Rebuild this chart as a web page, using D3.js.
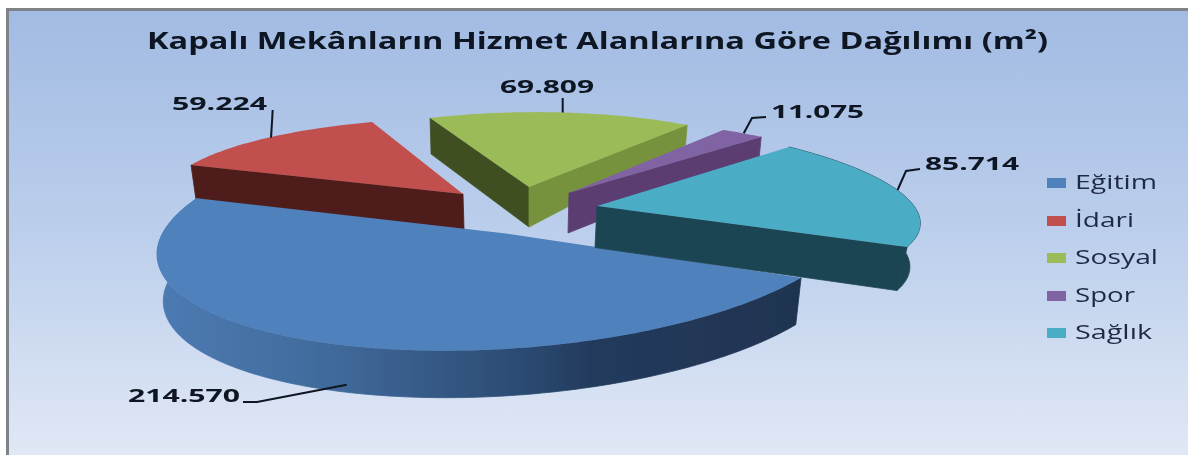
<!DOCTYPE html>
<html lang="tr">
<head>
<meta charset="utf-8">
<script src="https://cdn.jsdelivr.net/npm/d3@7"></script>
<style>
html,body{margin:0;padding:0;background:#fff;overflow:hidden}
svg{display:block}
text{font-family:"Open Sans",sans-serif}
</style>
</head>
<body>
<div id="chart"></div>
<script>
// ---- data ----
const chartTitle = "Kapalı Mekânların Hizmet Alanlarına Göre Dağılımı (m²)";
const categories = ["Eğitim", "İdari", "Sosyal", "Spor", "Sağlık"];
const values = [214570, 59224, 69809, 11075, 85714];

// ---- styles and layout ----
const W = 1188, H = 455;
const topColors = ["#4f81bd", "#c0504d", "#9bbb59", "#8064a2", "#4bacc6"];
const legendColors = ["#4f81bd", "#c0504d", "#9bbb59", "#8064a2", "#4bacc6"];
const startDeg = 95;
// each exploded slice has its own skewed picture plane: apex A, east vector U, north vector V
const frames = [
  {A:[506,233.5],   U:[310.2,34.5], V:[-160,112],  wall:{dx:0, sx:-.018, dy:47, kx:0, ky:0},        side0:null,      side1:null,      outer:"url(#eduWall)"},
  {A:[463,194],     U:[272.8,28.5], V:[-117.9,70.7],wall:{dx:1, sx:-.0147,dy:35, kx:0, ky:0},       side0:"#4f1f1b", side1:null,      outer:null},
  {A:[529,187],     U:[255.1,23.5], V:[-91.8,71.1], wall:{dx:0, sx:-.01, dy:40, kx:-.0665, ky:.1533},side0:"#3f4f20", side1:"#76923c", outer:null},
  {A:[569,193],     U:[286.2,20.7], V:[-78.9,71.5], wall:{dx:-1,sx:-.005,dy:40, kx:-.104, ky:0},    side0:null,      side1:"#5c3d72", outer:null},
  {A:[597,206],     U:[316.8,34.1], V:[-64.5,80.9], wall:{dx:-2,sx:-.026,dy:41.5, kx:.0065, ky:0},  side0:null,      side1:"#1f4552", outer:"#1f4552"}
];
const drawOrder = [2, 1, 3, 0, 4];
const labelPlace = [
  {x:128, w:112, y:402, lead:[12,-6], elbows:[[257,402],[243,402]], onWall:true},
  {x:172, w:95,  y:110, lead:[7,-1],  elbows:[[272.7,110]]},
  {x:500, w:94,  y:93,  lead:[0,0],   elbows:[[562.7,98]]},
  {x:771, w:93,  y:118, lead:[1,0],   elbows:[[752,118],[766,117]]},
  {x:925, w:94,  y:170, lead:[-6,-5], elbows:[[906,171],[920,169]]}
];
const legendPlace = [
  {y:178, w:82}, {y:216, w:59}, {y:253, w:83}, {y:291, w:60}, {y:328, w:77}
];

const svg = d3.select("#chart").append("svg").attr("width", W).attr("height", H);
const defs = svg.append("defs");

const bg = defs.append("linearGradient").attr("id","bg").attr("x1",0).attr("y1",0).attr("x2",0).attr("y2",1);
[[0,"#a2bbe3"],[.5,"#bccfec"],[1,"#e2e9f6"]].forEach(s=>bg.append("stop").attr("offset",s[0]).attr("stop-color",s[1]));

const eduWall = defs.append("linearGradient").attr("id","eduWall").attr("gradientUnits","userSpaceOnUse")
  .attr("x1",155).attr("y1",0).attr("x2",805).attr("y2",0);
[[0,"#4c7bb3"],[.27,"#406a9b"],[.57,"#2b4a72"],[.67,"#233b5d"],[1,"#1f3350"]]
  .forEach(s=>eduWall.append("stop").attr("offset",s[0]).attr("stop-color",s[1]));

defs.append("filter").attr("id","soft").attr("x","-5%").attr("y","-5%").attr("width","110%").attr("height","110%")
  .append("feGaussianBlur").attr("stdDeviation",0.45);

// frame and background
svg.append("rect").attr("x",7.5).attr("y",9.5).attr("width",W).attr("height",H)
  .attr("fill","url(#bg)").attr("stroke","#7f8388").attr("stroke-width",3);

const root = svg.append("g").attr("filter","url(#soft)");

// pie angles come from the data
const pie = d3.pie().sort(null).value(d=>d)
  .startAngle(startDeg*Math.PI/180).endAngle((startDeg+360)*Math.PI/180);
const arcs = pie(values);

const project = (f,a) => [
  f.A[0] + f.U[0]*Math.sin(a) - f.V[0]*Math.cos(a),
  f.A[1] + f.U[1]*Math.sin(a) - f.V[1]*Math.cos(a)
];
const drop = (f,p) => {
  const ox = p[0]-f.A[0], oy = p[1]-f.A[1], w = f.wall;
  return [p[0]+w.dx+w.sx*ox, p[1]+w.dy+w.kx*ox+w.ky*oy];
};
const line = d3.line();
const rim = (f,a0,a1) => {
  const n = Math.max(2, Math.ceil((a1-a0)*180/Math.PI));
  return d3.range(n+1).map(i=>project(f, a0+(a1-a0)*i/n));
};

const slices = root.selectAll("g.slice").data(drawOrder).join("g").attr("class","slice");
slices.each(function(i){
  const g = d3.select(this), f = frames[i], d = arcs[i];
  const sideWall = (a,fill) => {
    const e = project(f,a);
    g.append("path").attr("d", line([f.A, e, drop(f,e), drop(f,f.A)])+"Z")
      .attr("fill",fill).attr("stroke",fill).attr("stroke-width",0.8);
  };
  if (f.outer) {
    const top = rim(f,d.startAngle,d.endAngle);
    const bot = top.map(p=>drop(f,p)).reverse();
    g.append("path").attr("d", line(top.concat(bot))+"Z")
      .attr("fill",f.outer).attr("stroke",f.outer).attr("stroke-width",0.8);
  }
  if (f.side0) sideWall(d.startAngle,f.side0);
  if (f.side1) sideWall(d.endAngle,f.side1);
  g.append("path").attr("d", line([f.A].concat(rim(f,d.startAngle,d.endAngle)))+"Z").attr("fill",topColors[i]);
});

// value labels and leaders
const fmt = d3.formatLocale({decimal:",",thousands:".",grouping:[3],currency:["",""]}).format(",d");
arcs.forEach((d,i)=>{
  const f = frames[i], pl = labelPlace[i];
  let start = project(f,(d.startAngle+d.endAngle)/2);
  if (pl.onWall) start = drop(f,start);
  start = [start[0]+pl.lead[0], start[1]+pl.lead[1]];
  root.append("path").attr("d", line([start].concat(pl.elbows)))
    .attr("fill","none").attr("stroke","#0d1520").attr("stroke-width",2);
  root.append("text").attr("x",pl.x).attr("y",pl.y)
    .attr("textLength",pl.w).attr("lengthAdjust","spacingAndGlyphs")
    .attr("font-size",18).attr("font-weight",700).attr("fill","#0d1520")
    .text(fmt(d.data));
});

// title
root.append("text").attr("x",147).attr("y",49)
  .attr("textLength",901).attr("lengthAdjust","spacingAndGlyphs")
  .attr("font-size",23).attr("font-weight",700).attr("fill","#0d1520")
  .text(chartTitle);

// legend
const legend = root.selectAll("g.legend").data(categories).join("g").attr("class","legend");
legend.append("rect").attr("x",1047).attr("y",(d,i)=>legendPlace[i].y)
  .attr("width",19).attr("height",10).attr("fill",(d,i)=>legendColors[i]);
legend.append("text").attr("x",1075).attr("y",(d,i)=>legendPlace[i].y+11)
  .attr("textLength",(d,i)=>legendPlace[i].w).attr("lengthAdjust","spacingAndGlyphs")
  .attr("font-size",20).attr("fill","#1f2a45").text(d=>d);
</script>
</body>
</html>
